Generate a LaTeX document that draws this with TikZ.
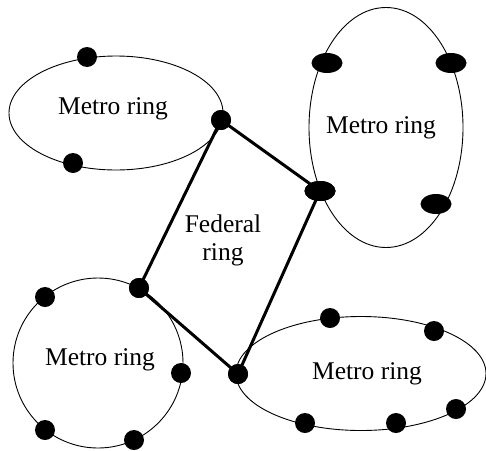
\documentclass[tikz,border=0pt]{standalone}
\usepackage{fontspec}
\setmainfont{Liberation Serif}
\usetikzlibrary{shapes.geometric}
\tikzset{
  ringline/.style={line width=0.9pt},
  fedline/.style={line width=3pt},
  dot/.style={circle,fill=black,inner sep=0pt,minimum size=20pt},
  odot/.style={ellipse,fill=black,inner sep=0pt,minimum width=31pt,minimum height=20pt},
  lbl/.style={font=\fontsize{25.5}{28}\selectfont,inner sep=0pt,align=center}
}
\begin{document}
\begin{tikzpicture}[x=1pt,y=-1pt]
\useasboundingbox (0,0) rectangle (486,450);
% metro rings
\draw[ringline] (116,113) ellipse [x radius=107, y radius=57];
\draw[ringline] (386,127.5) ellipse [x radius=77, y radius=120];
\draw[ringline] (98,363) circle [radius=85];
\draw[ringline] (361,373.5) ellipse [x radius=125, y radius=57];
% labels
\node[lbl] (t1) at (113,109) {Metro ring};
\node[lbl] (t2) at (381,128) {Metro ring};
\node[lbl] (t3) at (100,360) {Metro ring};
\node[lbl] (t4) at (367,374) {Metro ring};
\node[lbl] (tf) at (223,240) {Federal\\[0pt]ring};
% federal ring nodes
\node[dot] (fa) at (221,120) {};
\node[odot] (fb) at (320,191) {};
\node[dot] (fc) at (238,374) {};
\node[dot] (fd) at (139,288) {};
\draw[fedline] (fa.center) -- (fb.center) -- (fc.center) -- (fd.center) -- cycle;
\node[dot] at (fa) {};
\node[odot] at (fb) {};
\node[dot] at (fc) {};
\node[dot] at (fd) {};
% other nodes
\node[dot] (a1) at (87,57) {};
\node[dot] (a2) at (73,163) {};
\node[odot] (b1) at (327,63) {};
\node[odot] (b2) at (451,63) {};
\node[odot] (b3) at (436,204) {};
\node[dot] (c1) at (45,297) {};
\node[dot] (c2) at (181,373) {};
\node[dot] (c3) at (45,430) {};
\node[dot] (c4) at (134,440) {};
\node[dot] (d1) at (330,318) {};
\node[dot] (d2) at (434,331) {};
\node[dot] (d3) at (456,409) {};
\node[dot] (d4) at (396,423) {};
\node[dot] (d5) at (305,423) {};
\end{tikzpicture}
\end{document}
